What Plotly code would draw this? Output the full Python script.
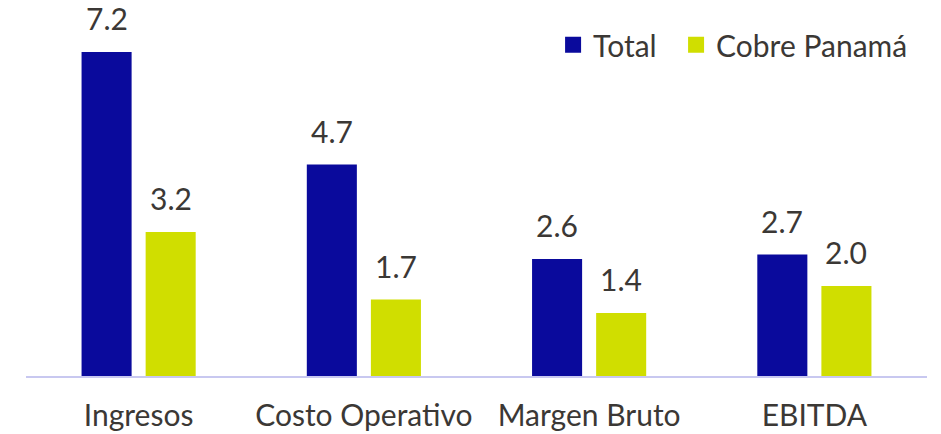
import plotly.graph_objects as go

categories = ["Ingresos", "Costo Operativo", "Margen Bruto", "EBITDA"]
total = [7.2, 4.7, 2.6, 2.7]
cobre_panama = [3.2, 1.7, 1.4, 2.0]
series = [("Total", total), ("Cobre Panamá", cobre_panama)]

BLUE = "#0A0A9C"
LIME = "#D0DE00"
TEXT = "#3B3835"
FONT = "Lato"
SIZE = 30
colors = [BLUE, LIME]

fig = go.Figure()
for (name, vals), col in zip(series, colors):
    fig.add_trace(go.Bar(x=categories, y=vals, name=name, marker_color=col,
                         marker_line_width=0, showlegend=False))
# legend keys drawn as larger squares, one legend box per series
for (name, _), col, lg in zip(series, colors, ("legend", "legend2")):
    fig.add_trace(go.Scatter(x=[None], y=[None], name=name, mode="markers",
                             legend=lg,
                             marker=dict(symbol="square", size=16, color=col)))

# value labels above each bar
for (name, vals), shift in zip(series, (-32, 32)):
    for c, v in zip(categories, vals):
        fig.add_annotation(x=c, y=v, text=f"{v:.1f}", showarrow=False,
                           xref="x", yref="y", xshift=shift, yshift=14,
                           yanchor="bottom",
                           font=dict(family=FONT, size=SIZE, color=TEXT))

legend_style = dict(orientation="h", xanchor="left", y=0.92, yanchor="middle",
                    font=dict(size=SIZE, color=TEXT),
                    bgcolor="rgba(0,0,0,0)", itemwidth=30)

fig.update_layout(
    width=941, height=434,
    margin=dict(l=26, r=14, t=16, b=58, autoexpand=False),
    paper_bgcolor="white", plot_bgcolor="white",
    barmode="group", bargap=0.431, bargroupgap=0.219,
    font=dict(family=FONT, size=SIZE, color=TEXT),
    showlegend=True,
    legend=dict(x=0.585, **legend_style),
    legend2=dict(x=0.7215, **legend_style),
    xaxis=dict(showline=True, linecolor="#C8C8F0", linewidth=2,
               ticks="", ticklabelstandoff=12, showgrid=False, automargin=False,
               tickfont=dict(family=FONT, size=SIZE, color=TEXT)),
    yaxis=dict(range=[0, 8], visible=False, showgrid=False, zeroline=False,
               automargin=False),
)

fig.write_html("out.html")
